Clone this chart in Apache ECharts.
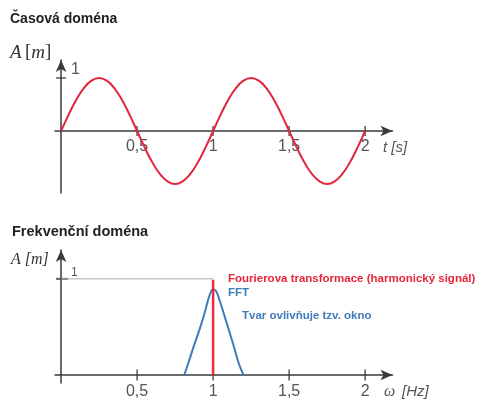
<!DOCTYPE html>
<html>
<head>
    <meta charset="utf-8" />
    <title>Časová a frekvenční doména</title>
    <script src="https://cdn.jsdelivr.net/npm/echarts@6.0.0/dist/echarts.min.js"></script>
    <style>
        html, body { margin: 0; padding: 0; background: #fff; }
        #main { width: 486px; height: 401px; }
    </style>
</head>
<body>
<div id="main"></div>
<script>
    // časová doména - harmonický signál
    var timeS = [0, 0.05, 0.1, 0.15, 0.2, 0.25, 0.3, 0.35, 0.4, 0.45, 0.5, 0.55, 0.6, 0.65, 0.7, 0.75, 0.8, 0.85, 0.9, 0.95,
        1, 1.05, 1.1, 1.15, 1.2, 1.25, 1.3, 1.35, 1.4, 1.45, 1.5, 1.55, 1.6, 1.65, 1.7, 1.75, 1.8, 1.85, 1.9, 1.95, 2];
    var amplitude = [0, 0.31, 0.59, 0.81, 0.95, 1, 0.95, 0.81, 0.59, 0.31, 0, -0.31, -0.59, -0.81, -0.95, -1, -0.95, -0.81, -0.59, -0.31,
        0, 0.31, 0.59, 0.81, 0.95, 1, 0.95, 0.81, 0.59, 0.31, 0, -0.31, -0.59, -0.81, -0.95, -1, -0.95, -0.81, -0.59, -0.31, 0];

    // frekvenční doména - FFT a spektrální čára
    var fftFreq = [0.81, 0.836, 0.873, 0.91, 0.943, 0.967, 0.987, 1, 1.02, 1.042, 1.07, 1.103, 1.136, 1.169, 1.2];
    var fftAmp = [0, 0.12, 0.3, 0.47, 0.64, 0.78, 0.87, 0.89, 0.87, 0.78, 0.64, 0.47, 0.3, 0.12, 0];
    var ftFreq = [1, 1];
    var ftAmp = [0, 0.99];
    var refFreq = [0, 1];
    var refAmp = [1, 1];

    // popisky os
    var xTicks = [0.5, 1, 1.5, 2];
    var yTicks = [1];

    function pairs(xs, ys) {
        var out = [];
        for (var i = 0; i < xs.length; i++) out.push([xs[i], ys[i]]);
        return out;
    }

    var axisColor = '#3a3a3a';
    var labelColor = '#555';
    var comma = function (v) { return String(v).replace('.', ','); };

    // osy posunuté na nulu pomocí offsetu (popisky pak jdou s osou)
    function xAxisDef(idx, offset, margin) {
        return {
            type: 'value', gridIndex: idx, min: -0.04, max: 2.18, offset: offset,
            axisLine: { onZero: false, symbol: ['none', 'arrow'], symbolSize: [8, 12], lineStyle: { color: axisColor, width: 1.5 } },
            axisTick: { show: false },
            splitLine: { show: false },
            axisLabel: { customValues: xTicks, formatter: comma, margin: margin, color: labelColor, fontSize: 16, fontFamily: 'Liberation Sans' }
        };
    }

    function yAxisDef(idx, min, max, size) {
        return {
            type: 'value', gridIndex: idx, min: min, max: max, offset: -6.08,
            axisLine: { onZero: false, symbol: ['none', 'arrow'], symbolSize: [8, 12], lineStyle: { color: axisColor, width: 1.5 } },
            axisTick: { show: false },
            splitLine: { show: false },
            axisLabel: { customValues: yTicks, inside: true, margin: 10, verticalAlign: 'bottom', lineHeight: size,
                color: labelColor, fontSize: size, fontFamily: 'Liberation Sans' }
        };
    }

    var tickStyle = { color: axisColor };

    var myChart = echarts.init(document.getElementById('main'));
    var option = {
        animation: false,
        grid: [
            { left: 55, width: 337.5, top: 60, height: 133 },
            { left: 55, width: 337.5, top: 250, height: 133 }
        ],
        xAxis: [xAxisDef(0, -62, 8), xAxisDef(1, -8, 9)],
        yAxis: [yAxisDef(0, -1.17, 1.34, 16), yAxisDef(1, -0.083, 1.3, 12)],
        series: [
            {
                type: 'line', xAxisIndex: 0, yAxisIndex: 0, data: pairs(timeS, amplitude),
                smooth: true, showSymbol: false, silent: true,
                lineStyle: { color: '#e0263c', width: 2 }
            },
            {
                // značky na osách (křížem přes osu)
                type: 'scatter', xAxisIndex: 0, yAxisIndex: 0, silent: true, symbol: 'rect', symbolSize: [1.6, 10],
                data: xTicks.map(function (v) { return [v, 0]; }), itemStyle: tickStyle
            },
            {
                type: 'scatter', xAxisIndex: 0, yAxisIndex: 0, silent: true, symbol: 'rect', symbolSize: [10, 1.6],
                data: yTicks.map(function (v) { return [0, v]; }), itemStyle: tickStyle
            },
            {
                type: 'line', xAxisIndex: 1, yAxisIndex: 1, data: pairs(refFreq, refAmp),
                showSymbol: false, silent: true, lineStyle: { color: '#aaa', width: 1 }
            },
            {
                type: 'line', xAxisIndex: 1, yAxisIndex: 1, data: pairs(fftFreq, fftAmp),
                smooth: 0.4, showSymbol: false, silent: true,
                lineStyle: { color: '#3f7bb8', width: 2 }
            },
            {
                type: 'line', xAxisIndex: 1, yAxisIndex: 1, data: pairs(ftFreq, ftAmp),
                showSymbol: false, silent: true, lineStyle: { color: '#ee2a3c', width: 2.5 }
            },
            {
                type: 'scatter', xAxisIndex: 1, yAxisIndex: 1, silent: true, symbol: 'rect', symbolSize: [1.6, 11],
                data: xTicks.map(function (v) { return [v, 0]; }), itemStyle: tickStyle
            },
            {
                type: 'scatter', xAxisIndex: 1, yAxisIndex: 1, silent: true, symbol: 'rect', symbolSize: [12, 2],
                symbolOffset: [1, 0],
                data: yTicks.map(function (v) { return [0, v]; }), itemStyle: tickStyle
            }
        ],
        graphic: [
            { type: 'text', left: 10, top: 12, style: { text: 'Časová doména', font: 'bold 14px "Liberation Sans"', fill: '#222' } },
            { type: 'text', left: 12, top: 224, style: { text: 'Frekvenční doména', font: 'bold 14.5px "Liberation Sans"', fill: '#222' } },
            {
                type: 'text', left: 10, top: 43,
                style: {
                    text: '{i|A} {n|[}{i|m}{n|]}',
                    rich: {
                        i: { font: 'italic 19px "Liberation Serif"', fill: '#333' },
                        n: { font: '19px "Liberation Serif"', fill: '#333' }
                    }
                }
            },
            { type: 'text', left: 11, top: 252, style: { text: 'A [m]', font: 'italic 16px "Liberation Serif"', fill: '#333' } },
            { type: 'text', left: 383, top: 140, style: { text: 't [s]', font: 'italic 15px "Liberation Sans"', fill: '#555' } },
            {
                type: 'text', left: 384, top: 384,
                style: {
                    text: '{w|ω}  {s|[Hz]}',
                    rich: {
                        w: { font: 'italic 16px "Liberation Serif"', fill: '#555' },
                        s: { font: 'italic 15px "Liberation Sans"', fill: '#555' }
                    }
                }
            },
            { type: 'text', left: 228, top: 273, style: { text: 'Fourierova transformace (harmonický signál)', font: 'bold 11.5px "Liberation Sans"', fill: '#e8263a' } },
            { type: 'text', left: 228, top: 287, style: { text: 'FFT', font: 'bold 11.5px "Liberation Sans"', fill: '#3f7bb8' } },
            { type: 'text', left: 242, top: 310, style: { text: 'Tvar ovlivňuje tzv. okno', font: 'bold 11.5px "Liberation Sans"', fill: '#3f7bb8' } }
        ]
    };
    myChart.setOption(option);
</script>
</body>
</html>
